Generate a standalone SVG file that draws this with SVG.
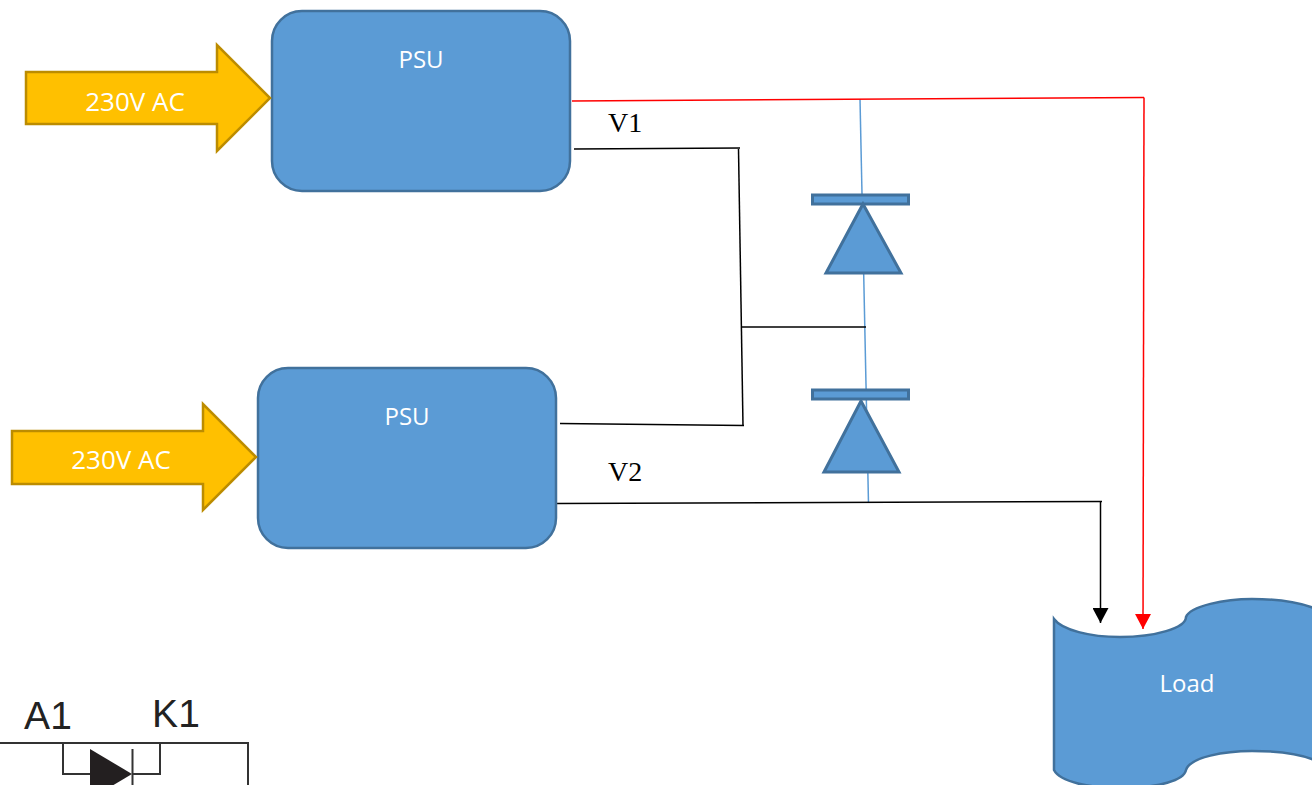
<svg xmlns="http://www.w3.org/2000/svg" width="1312" height="785" viewBox="0 0 1312 785">
<style>
.sh{fill:#5b9bd5;stroke:#41719c;stroke-width:2.5}
.d{stroke-width:3}
.ar{fill:#ffc000;stroke:#bc8c00;stroke-width:2.5}
.w{fill:#fff;font-family:"Open Sans","Noto Sans",sans-serif;font-size:24px;text-anchor:middle}
.ac{font-size:26px}
.s{fill:#000;font-family:"Liberation Serif",serif;font-size:28px}
.k{fill:none;stroke:#000;stroke-width:1.5}
.b{fill:none;stroke:#5b9bd5;stroke-width:1.5}
.r{fill:none;stroke:#f00;stroke-width:1.5}
.sym{fill:none;stroke:#333;stroke-width:2}
.lb{fill:#222;font-family:"Liberation Sans",Arial,sans-serif;font-size:39px}
</style>
<defs>
<marker id="ak" markerUnits="userSpaceOnUse" markerWidth="16" markerHeight="16" refX="15" refY="8" orient="auto"><path d="M0 0L15 8L0 16Z" fill="#000"/></marker>
<marker id="ar" markerUnits="userSpaceOnUse" markerWidth="16" markerHeight="16" refX="15" refY="8" orient="auto"><path d="M0 0L15 8L0 16Z" fill="#f00"/></marker>
</defs>
<g id="connectors">
<path class="b" d="M860 99L868.500 503"/>
<path class="r" d="M572 101L1144 97.500"/>
<path class="r" d="M1144 97.500L1143 629" marker-end="url(#ar)"/>
<path class="k" d="M574 149L740 148"/>
<path class="k" d="M738.500 149L743 425.500"/>
<path class="k" d="M560 423.500L744 425.500"/>
<path class="k" d="M742 327H866"/>
<path class="k" d="M557 503.500L1102 501.500"/>
<path class="k" d="M1100.500 502V623" marker-end="url(#ak)"/>
</g>
<g id="psu1"><rect class="sh" x="272" y="11" width="298" height="180" rx="30"/><text class="w" x="421" y="68">PSU</text></g>
<g id="psu2"><rect class="sh" x="258" y="368" width="298" height="180" rx="30"/><text class="w" x="407" y="425">PSU</text></g>
<g id="ac1"><path class="ar" d="M26 72H217V45L270 98L217 151V124H26Z"/><text class="w ac" x="135" y="111">230V AC</text></g>
<g id="ac2"><path class="ar" d="M12 431H203V404L256 457L203 510V484H12Z"/><text class="w ac" x="121" y="469">230V AC</text></g>
<g id="diode1"><rect class="sh d" x="812.500" y="195" width="96" height="9"/><path class="sh d" d="M863 204L901 273H826Z"/></g>
<g id="diode2"><rect class="sh d" x="812.500" y="390" width="96" height="9"/><path class="sh d" d="M861 401L899 472H824Z"/></g>
<g id="v1"><text class="s" x="608" y="132">V1</text></g>
<g id="v2"><text class="s" x="608" y="481">V2</text></g>
<g id="load"><path class="sh" d="M1054 619C1062 630 1090 637 1120 637C1155 637 1186 628 1186 617C1190 606 1225 599 1252 599C1280 599 1300 603 1314 608V760C1300 754 1280 751 1252 751C1225 751 1190 757 1186 770C1184 780 1160 788 1120 788C1090 788 1060 782 1054 770Z"/><text class="w" x="1187" y="692">Load</text></g>
<g id="symbol">
<text class="lb" x="24" y="729" textLength="48">A1</text><text class="lb" x="152" y="727" textLength="48">K1</text>
<path class="sym" d="M0 743H248V785M63 744V774H90M133 774H160V744M132.500 749V785"/>
<path d="M90 749L132 774L90 799Z" fill="#231f20"/>
</g>
</svg>
